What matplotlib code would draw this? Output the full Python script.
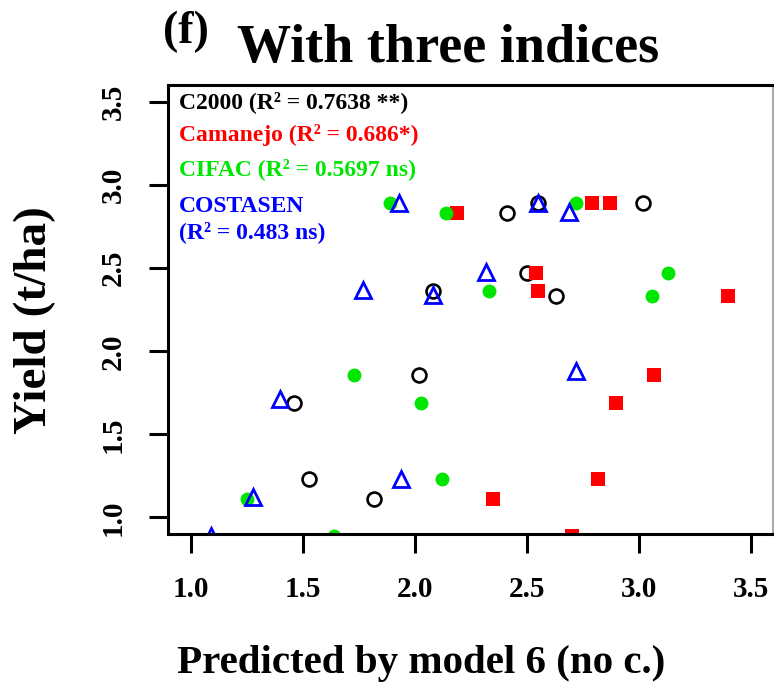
import matplotlib
matplotlib.use("Agg")
import matplotlib.pyplot as plt

plt.rcParams['font.family'] = ['Liberation Serif', 'DejaVu Serif']
plt.rcParams['font.weight'] = 'bold'

# observed yield (t/ha) vs predicted by model 6, one series per variety
c2000_x = [2.41, 2.55, 3.02, 2.50, 2.08, 2.63, 2.02, 1.46, 1.53, 1.82]
c2000_y = [2.83, 2.89, 2.89, 2.47, 2.36, 2.33, 1.86, 1.69, 1.23, 1.11]

camanejo_x = [2.19, 2.79, 2.87, 2.54, 2.55, 3.40, 3.07, 2.90, 2.82, 2.35, 2.70]
camanejo_y = [2.83, 2.89, 2.89, 2.47, 2.36, 2.33, 1.86, 1.69, 1.23, 1.11, 0.89]

cifac_x = [1.89, 2.14, 2.72, 2.33, 3.13, 3.06, 1.73, 2.03, 2.12, 1.25, 1.64]
cifac_y = [2.89, 2.83, 2.89, 2.36, 2.47, 2.33, 1.86, 1.69, 1.23, 1.11, 0.89]

costasen_x = [1.93, 2.55, 2.69, 2.32, 1.77, 2.08, 2.72, 1.40, 1.94, 1.28, 1.09]
costasen_y = [2.89, 2.89, 2.84, 2.48, 2.37, 2.34, 1.88, 1.71, 1.23, 1.12, 0.89]

legend_labels = ["C2000 (R\u00b2 = 0.7638 **)", "Camanejo (R\u00b2 = 0.686*)",
                 "CIFAC (R\u00b2 = 0.5697 ns)", "COSTASEN", "(R\u00b2 = 0.483 ns)"]
legend_colors = ['black', '#ff0000', '#00e600', '#0000ff', '#0000ff']
ticks = [1.0, 1.5, 2.0, 2.5, 3.0, 3.5]

fig = plt.figure(figsize=(7.74, 6.86), dpi=100)
ax = fig.add_axes([0.2175, 0.2216, 0.7815, 0.6538])

ax.plot(c2000_x, c2000_y, 'o', mfc='none', mec='black', ms=10, mew=1.9)
ax.plot(camanejo_x, camanejo_y, 's', color='#ff0000', ms=10, mew=0)
ax.plot(cifac_x, cifac_y, 'o', color='#00e600', ms=10, mew=0)
ax.plot(costasen_x, costasen_y, '^', mfc='none', mec='#0000ff', ms=12, mew=2.0)

ax.set_xlim(0.9, 3.6)
ax.set_ylim(0.9, 3.6)
ax.set_xticks(ticks)
ax.set_yticks(ticks)
ax.set_xticklabels([f"{t:.1f}" for t in ticks], fontsize=21, fontweight='bold')
ax.set_yticklabels([f"{t:.1f}" for t in ticks], fontsize=21, fontweight='bold',
                   rotation=90, va='center')
ax.tick_params(axis='both', direction='out', length=14, width=2.2)
ax.tick_params(axis='x', pad=16)
ax.tick_params(axis='y', pad=16)

for side in ['left', 'bottom', 'top']:
    ax.spines[side].set_linewidth(2.2)
ax.spines['right'].set_linewidth(1.2)
ax.spines['right'].set_color('#999999')

# legend as coloured text lines, as in the original
legend_y = [108, 141.5, 175, 211.5, 238]
for txt, col, yp in zip(legend_labels, legend_colors, legend_y):
    fig.text(179 / 774, 1 - yp / 686, txt, color=col, fontsize=17,
             fontweight='bold', va='baseline', ha='left')

fig.text(448 / 774, 1 - 62 / 686, "With three indices", fontsize=39,
         fontweight='bold', ha='center', va='baseline')
fig.text(163 / 774, 1 - 31.5 / 686, "(f)", fontsize=33, fontweight='bold',
         ha='left', va='center')
fig.text(35 / 774, 1 - 320 / 686, "Yield (t/ha)", fontsize=34, fontweight='bold',
         rotation=90, ha='center', va='center')
fig.text(421.5 / 774, 1 - 673 / 686, "Predicted by model 6 (no c.)", fontsize=29.5,
         fontweight='bold', ha='center', va='baseline')

fig.savefig("out.png", dpi=100)
